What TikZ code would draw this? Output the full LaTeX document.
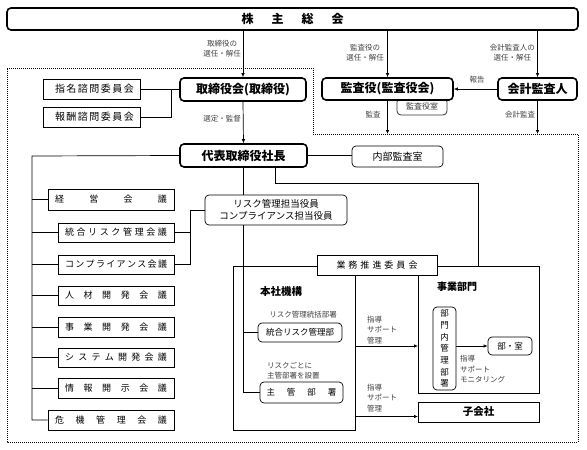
\documentclass[tikz,border=0pt]{standalone}
\usepackage{fontspec}
\setmainfont{Noto Sans CJK JP}
\usetikzlibrary{arrows.meta}
\begin{document}
\begin{tikzpicture}[x=1pt,y=-1pt,
  thickbox/.style={draw, line width=1.6pt, rounded corners=4pt, fill=white, inner sep=0pt, font=\fontsize{12}{14}\selectfont\bfseries},
  plainbox/.style={draw, line width=0.7pt, fill=white, inner sep=0pt, font=\fontsize{9}{11}\selectfont},
  roundbox/.style={plainbox, rounded corners=4pt},
  conn/.style={line width=0.7pt},
  arr/.style={conn, -{Latex[length=4pt,width=3.5pt]}},
  lbl/.style={inner sep=0pt, text=black!75, font=\fontsize{7.5}{10.5}\selectfont, align=center},
]
\useasboundingbox (0,0) rectangle (587,450);

% outer dotted frame
\draw[line width=0.9pt, dash pattern=on 0.9pt off 1.1pt] (7,68) -- (313,68) -- (313,134) -- (578,134) -- (578,442) -- (7,442) -- cycle;

% large frames
\node[plainbox, minimum width=122, minimum height=164, anchor=north west] (hk) at (233,266) {};
\node[plainbox, minimum width=121, minimum height=127, anchor=north west] (jb) at (418,266) {};

% top part
\node[thickbox, minimum width=571, minimum height=22] (sh) at (292.5,19) {株\hspace{1.5em}主\hspace{1.5em}総\hspace{1.5em}会};
\node[thickbox, minimum width=126, minimum height=23] (tb) at (243,89.5) {取締役会(取締役)};
\node[plainbox, minimum width=97, minimum height=20, font=\fontsize{10}{12}\selectfont] (sm) at (91.5,89) {\makebox[73pt][s]{指 名 諮 問 委 員 会}};
\node[plainbox, minimum width=97, minimum height=20, font=\fontsize{10}{12}\selectfont] (hs) at (91.5,117) {\makebox[73pt][s]{報 酬 諮 問 委 員 会}};
\node[roundbox, minimum width=50, minimum height=17, draw=black!80, line width=0.8pt, text=black!80, font=\fontsize{8}{10}\selectfont] (kys) at (422,106.5) {\raisebox{-1pt}{監査役室}};
\node[thickbox, minimum width=131, minimum height=22] (ky) at (387.5,89) {監査役(監査役会)};
\node[thickbox, minimum width=79, minimum height=22] (kk) at (537.5,89) {会計監査人};
\node[thickbox, minimum width=127, minimum height=23] (dh) at (243.5,155.5) {代表取締役社長};
\node[roundbox, minimum width=91, minimum height=21, font=\fontsize{10}{12}\selectfont] (nb) at (397.5,156.5) {内部監査室};
\node[roundbox, minimum width=142, minimum height=30, align=center, font=\fontsize{9.5}{12.5}\selectfont] (ro) at (276,210) {リスク管理担当役員\\コンプライアンス担当役員};

% left column
\node[plainbox, minimum width=126, minimum height=21] (ke) at (111,199.5) {\makebox[112pt][s]{経 営 会 議}};
\node[plainbox, minimum width=116, minimum height=19] (tg) at (116,232.5) {\makebox[102pt][s]{統 合 リ ス ク 管 理 会 議}};
\node[plainbox, minimum width=116, minimum height=19] (cp) at (116,264.5) {\makebox[102pt][s]{コ ン プ ラ イ ア ン ス 会 議}};
\node[plainbox, minimum width=116, minimum height=19] (jz) at (116,295.5) {\makebox[102pt][s]{人 材 開 発 会 議}};
\node[plainbox, minimum width=116, minimum height=20] (jk) at (116,327) {\makebox[102pt][s]{事 業 開 発 会 議}};
\node[plainbox, minimum width=116, minimum height=19] (sy) at (116,357.5) {\makebox[102pt][s]{シ ス テ ム 開 発 会 議}};
\node[plainbox, minimum width=116, minimum height=20] (jh) at (116,388) {\makebox[102pt][s]{情 報 開 示 会 議}};
\node[plainbox, minimum width=126, minimum height=20] (kr) at (111,420) {\makebox[112pt][s]{危 機 管 理 会 議}};

% middle / right
\node[plainbox, minimum width=120, minimum height=20] (gy) at (377,265) {\makebox[81pt][s]{業 務 推 進 委 員 会}};
\node[anchor=west, inner sep=0pt, font=\fontsize{10.5}{12}\selectfont\bfseries] (hkt) at (260,292) {本社機構};
\node[lbl] (rkt) at (303,315) {リスク管理統括部署};
\node[roundbox, minimum width=84, minimum height=19, font=\fontsize{8.5}{10}\selectfont] (tr) at (300,332.5) {統合リスク管理部};
\node[lbl, anchor=west, align=left] (rg) at (267,370.5) {リスクごとに\\主管部署を設置};
\node[roundbox, minimum width=83, minimum height=21, font=\fontsize{8.5}{10}\selectfont] (sk) at (301.5,392.5) {\makebox[70pt][s]{主 管 部 署}};
\node[inner sep=0pt, font=\fontsize{10}{12}\selectfont\bfseries] (jbt) at (457,287) {事業部門};
\node[roundbox, minimum width=23, minimum height=83, align=center, font=\fontsize{8.5}{11.7}\selectfont] (bn) at (444.5,348.5) {部\\門\\内\\管\\理\\部\\署};
\node[roundbox, minimum width=44, minimum height=18, font=\fontsize{8.5}{10}\selectfont] (bs) at (510,346) {部・室};
\node[plainbox, minimum width=121, minimum height=20, font=\fontsize{10.5}{12}\selectfont\bfseries] (kg) at (478.5,412) {子会社};

% labels
\node[lbl, anchor=east] (a1) at (241,48.5) {取締役の\\選任・解任};
\node[lbl, anchor=east] (a2) at (241,119) {選定・監督};
\node[lbl, anchor=east] (a3) at (384,52.5) {監査役の\\選任・解任};
\node[lbl, anchor=east] (a4) at (535,52.5) {会計監査人の\\選任・解任};
\node[lbl] (a5) at (477,80) {報告};
\node[lbl] (a6) at (373,115) {監査};
\node[lbl] (a7) at (520,115) {会計監査};
\node[lbl, anchor=west, align=left] (l1) at (367,330) {指導\\サポート\\管理};
\node[lbl, anchor=west, align=left] (l2) at (367,398) {指導\\サポート\\管理};
\node[lbl, anchor=west, align=left] (l3) at (460,369.5) {指導\\サポート\\モニタリング};

% coordinates
\coordinate (d1) at (387.5,134);
\coordinate (d2) at (537.5,134);
\coordinate (sj) at (171,89);
\coordinate (lt) at (32,156);
\coordinate (rj) at (190,210);
\coordinate (p1) at (275,183);
\coordinate (p2) at (478,183);
\coordinate (kgy) at (418,416.5);

% connectors
\draw[arr] (sh.south -| tb.north) -- (tb.north);
\draw[arr] (sh.south -| ky.north) -- (ky.north);
\draw[arr] (sh.south -| kk.north) -- (kk.north);
\draw[arr] (kk.west) -- (ky.east);
\draw[arr] (ky.south) -- (d1);
\draw[arr] (kk.south) -- (d2);
\draw[arr] (tb.south) -- (dh.north);
\draw[conn] (sm.east) -- (sm.east -| tb.west);
\draw[conn] (hs.east) -| (sj);
\draw[conn] (dh.east) -- (dh.east -| nb.west);

\draw[conn] (dh.west) -- (lt) -- (lt |- kr.west) -- (kr.west);
\foreach \n in {ke,tg,cp,jz,jk,sy,jh} \draw[conn] (lt |- \n.west) -- (\n.west);

\draw[conn] (ro.west) -- (rj) |- (cp.east);
\draw[conn] (tg.east) -- (tg.east -| rj);

\draw[conn] (dh.south) -- (dh.south |- ro.north);
\draw[conn] (dh.south |- ro.south) |- (sk.west);
\draw[conn] (dh.south |- tr.west) -- (tr.west);

\draw[conn] (p1 |- dh.south) -- (p1) -- (p2) -- (p2 |- jb.north);

\draw[arr] (hk.east |- bs.west) -- (jb.west |- bs.west);
\draw[arr] (hk.east |- kgy) -- (kgy);
\draw[arr] (bn.east |- bs.west) -- (bs.west);
\end{tikzpicture}
\end{document}
